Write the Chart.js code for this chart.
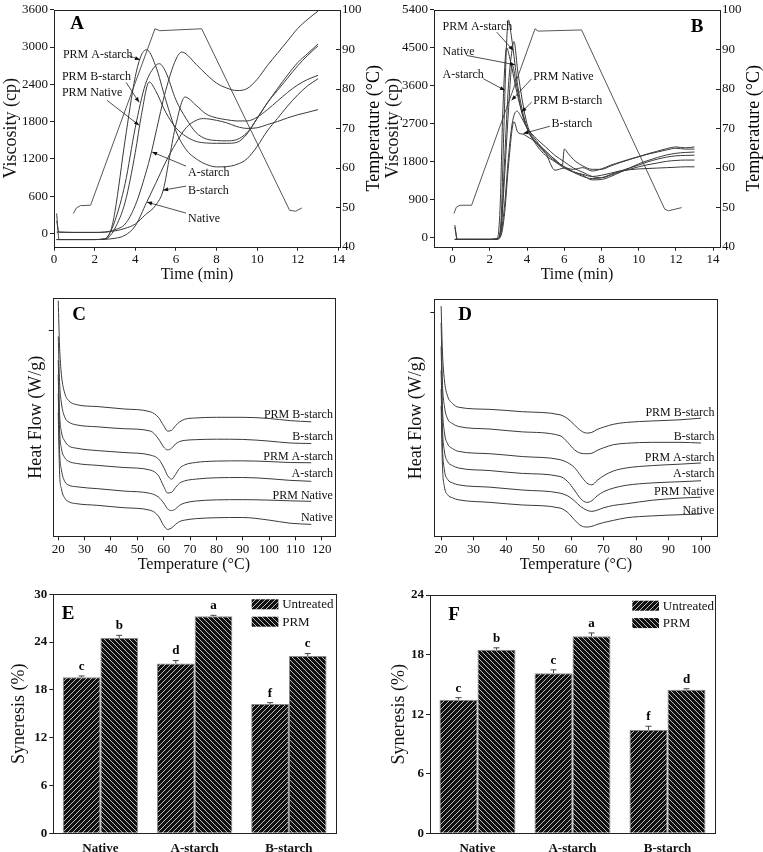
<!DOCTYPE html>
<html>
<head>
<meta charset="utf-8">
<script src="https://cdn.jsdelivr.net/npm/chart.js@4.4.0/dist/chart.umd.min.js"></script>
<style>
  body { margin: 0; background: #fff; width: 763px; height: 852px; position: relative; overflow: hidden; }
  canvas { position: absolute; }
</style>
</head>
<body>
<canvas id="chartA" width="395" height="285" style="left:0;top:0"></canvas>
<canvas id="chartB" width="381" height="285" style="left:382px;top:0"></canvas>
<canvas id="chartC" width="380" height="290" style="left:0;top:285px"></canvas>
<canvas id="chartD" width="383" height="290" style="left:380px;top:285px"></canvas>
<canvas id="chartE" width="380" height="277" style="left:0;top:575px"></canvas>
<canvas id="chartF" width="383" height="277" style="left:380px;top:575px"></canvas>
<script>
// ---------- panel A: RVA pasting curves ----------
const timeA_PRM_A = [0.13, 0.25, 1, 2, 2.5, 2.8, 3, 3.5, 4, 4.3, 4.56, 5, 5.5, 6, 6.5, 7, 7.5, 8, 8.5, 9, 9.5, 10, 10.5, 11, 11.5, 12, 12.5, 13];
const viscA_PRM_A = [320, -100, -100, -100, -90, 50, 350, 1500, 2520, 2870, 2957, 2700, 2150, 1650, 1350, 1200, 1110, 1070, 1075, 1110, 1200, 1400, 1650, 1850, 2050, 2230, 2380, 2490];
const timeA_PRM_B = [0.13, 0.25, 1, 2, 2.5, 2.7, 3, 3.5, 4, 4.5, 5, 5.19, 5.5, 6, 6.5, 7, 7.5, 8, 8.5, 9, 9.5, 10, 10.5, 11, 11.5, 12, 12.5, 13];
const viscA_PRM_B = [-100, -100, -100, -100, -90, -20, 200, 800, 1700, 2400, 2700, 2732, 2600, 2150, 1850, 1620, 1520, 1495, 1490, 1510, 1620, 1850, 2100, 2330, 2550, 2750, 2900, 3050];
const timeA_PRM_N = [0.13, 0.25, 1, 2, 2.5, 2.7, 3, 3.5, 4, 4.3, 4.69, 5, 5.5, 6, 6.5, 7, 7.5, 8, 8.5, 9, 9.5, 10, 10.5, 11, 11.5, 12, 12.5, 13];
const viscA_PRM_N = [-100, -100, -100, -100, -95, -60, 80, 500, 1300, 1900, 2437, 2300, 1950, 1700, 1560, 1480, 1455, 1450, 1450, 1465, 1600, 1850, 2100, 2300, 2500, 2700, 2870, 3020];
const timeA_A = [0.13, 0.25, 1, 2, 2.5, 3, 3.5, 4, 4.5, 4.8, 5, 5.5, 6, 6.29, 6.5, 7, 7.5, 8, 8.5, 9, 9.5, 10, 10.5, 11, 11.5, 12, 12.5, 13];
const viscA_A = [200, 20, 15, 15, 20, 60, 150, 450, 950, 1312, 1600, 2300, 2800, 2920, 2890, 2720, 2560, 2420, 2340, 2300, 2330, 2480, 2700, 2900, 3100, 3300, 3450, 3580];
const timeA_B = [0.13, 0.25, 1, 2, 2.5, 3, 3.5, 4, 4.5, 5, 5.38, 5.7, 6, 6.45, 7, 7.5, 8, 8.5, 9, 9.5, 10, 10.5, 11, 11.5, 12, 12.5, 13];
const viscA_B = [20, 20, 15, 15, 20, 40, 80, 150, 300, 450, 700, 1250, 1750, 2195, 2060, 1920, 1860, 1830, 1810, 1810, 1870, 1990, 2130, 2270, 2390, 2480, 2545];
const timeA_N = [0.13, 0.25, 1, 2, 2.5, 3, 3.5, 4, 4.56, 5, 5.5, 6, 6.5, 7, 7.35, 8, 8.5, 9, 9.5, 10, 10.5, 11, 11.5, 12, 12.5, 13];
const viscA_N = [-100, -100, -100, -100, -95, -80, -30, 120, 500, 800, 1150, 1450, 1700, 1820, 1848, 1820, 1780, 1720, 1690, 1700, 1750, 1800, 1860, 1910, 1950, 1993];
const timeTempA = [0.95, 1.1, 1.3, 1.8, 4.97, 5.2, 7.27, 11.6, 11.9, 12.2];
const tempA = [48.4, 49.8, 50.4, 50.5, 95.2, 94.7, 95.2, 49.2, 49.0, 49.8];
const xTicksAB = [0, 2, 4, 6, 8, 10, 12, 14];
const viscTicksA = [0, 600, 1200, 1800, 2400, 3000, 3600];
const tempTicks = [40, 50, 60, 70, 80, 90, 100];
const namesA = ['PRM A-starch', 'PRM B-starch', 'PRM Native', 'A-starch', 'B-starch', 'Native'];
const labelAtA = [[0.44, 2881], [0.39, 2528], [0.39, 2255], [6.6, 969], [6.6, 680], [6.6, 230]];
const arrowsA = [[3.64, 2865, 4.23, 2796], [3.55, 2431, 4.19, 2110], [2.61, 2142, 4.19, 1740], [6.5, 1082, 4.83, 1311], [6.5, 760, 5.37, 696], [6.5, 326, 4.58, 503]];

// ---------- panel B ----------
const timeB_PRM_A = [0.12, 0.25, 1, 2, 2.4, 2.6, 2.75, 2.9, 3.0, 3.15, 3.3, 3.5, 4, 4.5, 5, 5.5, 6, 6.5, 7, 7.5, 8, 8.5, 9, 9.5, 10, 10.5, 11, 11.5, 12, 12.5, 13];
const viscB_PRM_A = [300, -40, -40, -40, -30, 400, 2500, 4600, 5160, 4800, 4300, 3600, 2600, 2250, 2050, 1850, 1680, 1620, 1660, 1580, 1630, 1720, 1790, 1860, 1920, 1990, 2050, 2110, 2150, 2130, 2150];
const timeB_N = [0.12, 0.25, 1, 2, 2.4, 2.6, 2.8, 3.0, 3.15, 3.3, 3.5, 4, 4.5, 5, 5.5, 5.9, 6.0, 6.2, 6.5, 7, 7.5, 8, 8.5, 9, 9.5, 10, 10.5, 11, 11.5, 12, 12.5, 13];
const viscB_N = [250, -40, -40, -40, -35, 200, 1900, 3600, 4300, 4650, 3950, 2700, 2300, 2050, 1850, 1720, 2100, 2000, 1850, 1700, 1620, 1620, 1700, 1780, 1850, 1920, 1980, 2030, 2080, 2120, 2100, 2100];
const timeB_A = [0.12, 0.25, 1, 2, 2.4, 2.55, 2.7, 2.9, 3.1, 3.5, 4, 4.5, 5, 5.5, 6, 6.5, 7, 7.5, 8, 8.5, 9, 9.5, 10, 10.5, 11, 11.5, 12, 12.5, 13];
const viscB_A = [-40, -40, -40, -40, -20, 700, 3000, 4500, 4200, 3350, 2600, 2200, 1950, 1800, 1650, 1550, 1450, 1400, 1420, 1500, 1580, 1650, 1720, 1800, 1860, 1910, 1940, 1950, 1955];
const timeB_PRM_N = [0.12, 0.25, 1, 2, 2.4, 2.6, 2.8, 3.0, 3.2, 3.4, 3.7, 4, 4.5, 5, 5.5, 6, 6.5, 7, 7.5, 8, 8.5, 9, 9.5, 10, 10.5, 11, 11.5, 12, 12.5, 13];
const viscB_PRM_N = [-40, -40, -40, -40, -30, 200, 1500, 3000, 4100, 3700, 3000, 2600, 2250, 2000, 1820, 1680, 1560, 1480, 1370, 1380, 1450, 1550, 1650, 1750, 1830, 1900, 1960, 2000, 2020, 2030];
const timeB_PRM_B = [0.12, 0.25, 1, 2, 2.4, 2.6, 2.8, 3.0, 3.2, 3.45, 3.7, 4, 4.5, 5, 5.5, 6, 6.5, 7, 7.5, 8, 8.5, 9, 9.5, 10, 10.5, 11, 11.5, 12, 12.5, 13];
const viscB_PRM_B = [-40, -40, -40, -40, -30, 100, 800, 1900, 2700, 3000, 2850, 2600, 2350, 2150, 1950, 1800, 1650, 1550, 1450, 1420, 1480, 1560, 1620, 1680, 1730, 1770, 1810, 1830, 1840, 1840];
const timeB_B = [0.12, 0.25, 1, 2, 2.4, 2.6, 2.8, 3.0, 3.3, 3.5, 3.8, 4, 4.5, 5, 5.5, 6, 6.5, 7, 7.5, 8, 8.5, 9, 9.5, 10, 10.5, 11, 11.5, 12, 12.5, 13];
const viscB_B = [-40, -40, -40, -40, -30, 50, 600, 1700, 2750, 2500, 2450, 2400, 2250, 2000, 1600, 1650, 1560, 1500, 1450, 1480, 1530, 1580, 1610, 1630, 1640, 1650, 1660, 1670, 1680, 1680];
const timeTempB = [0.07, 0.2, 0.39, 1.02, 4.43, 4.6, 6.93, 11.4, 11.6, 12.31];
const tempB = [48.4, 50, 50.5, 50.5, 95.2, 94.6, 94.9, 49.5, 49.1, 49.9];
const viscTicksB = [0, 900, 1800, 2700, 3600, 4500, 5400];
const namesB = ['PRM A-starch', 'Native', 'A-starch', 'PRM Native', 'PRM B-starch', 'B-starch'];
const labelAtB = [[-0.54, 5005], [-0.54, 4397], [-0.54, 3870], [4.33, 3823], [4.33, 3239], [5.32, 2688]];
const arrowsB = [[2.37, 4870, 3.26, 4437], [0.75, 4319, 3.35, 4099], [1.65, 3768, 2.81, 3492], [4.25, 3768, 3.17, 3255], [4.25, 3215, 3.71, 2979], [5.23, 2641, 3.80, 2468]];

// ---------- panel C: DSC ----------
const tempGridC = [20, 20.5, 21.2, 22.5, 24, 27, 35, 45, 55, 58, 60, 61.5, 63, 64.5, 66, 68, 72, 80, 90, 100, 108, 116];
const hfC_PRM_B = [99, 80, 68, 60, 57, 55.3, 54.5, 53.5, 52.3, 50, 46.5, 44.2, 44.5, 46.5, 48, 49.2, 49.7, 50, 50, 49.5, 48.6, 48.1];
const hfC_B = [84, 65, 56, 50, 48, 46.8, 46, 45.2, 44.2, 41, 37.5, 36.3, 37, 38.8, 39.8, 40.3, 40.6, 40.8, 40.7, 40, 39.2, 39];
const hfC_PRM_A = [74, 52, 44, 40, 38, 37, 36, 35.2, 34.1, 32.5, 29, 25.5, 24, 26, 28.5, 30, 31, 31.6, 31.7, 31.4, 31, 30.9];
const hfC_A = [68, 45, 37, 33, 31.5, 30.6, 29.8, 28.9, 27.8, 25.5, 21, 18.2, 18.5, 20.5, 22.3, 23.3, 24, 24.6, 24.7, 24.2, 23.5, 23.1];
const hfC_PRM_N = [60, 36, 28, 23, 21.5, 20.8, 20, 19, 18, 16.5, 14, 11.5, 10.8, 11.5, 13, 14, 14.8, 15.3, 15.4, 15.2, 14.9, 14.7];
const hfC_N = [52, 27, 20, 16, 14.5, 13.7, 13, 12, 10.9, 8.5, 4.5, 2.9, 3.5, 5, 6.2, 6.8, 7.4, 7.8, 7.9, 6.8, 5.5, 5];
const xTicksC = [20, 30, 40, 50, 60, 70, 80, 90, 100, 110, 120];
const namesCD = ['PRM B-starch', 'B-starch', 'PRM A-starch', 'A-starch', 'PRM Native', 'Native'];
const labelYC = [50.9, 41.8, 33.4, 26.1, 17.2, 7.9];

// ---------- panel D: DSC ----------
const tempGridD = [20, 20.4, 21, 22, 23.5, 25.3, 35, 45, 56.6, 59, 61, 63, 64.8, 66.4, 68, 70, 73, 77, 85, 93.5, 100];
const hfD_PRM_B = [97, 78, 66, 59, 56, 54.4, 53.5, 52.5, 51.2, 49.5, 47, 44.5, 43.5, 43.8, 45, 46, 47.2, 48, 48.6, 49.1, 49.8];
const hfD_B = [90, 65, 55, 49.5, 47.5, 46.3, 45.2, 44, 42.4, 39.5, 36.5, 35, 34.8, 35, 36.2, 37.3, 38.6, 39.2, 39.6, 39.6, 39.3];
const hfD_PRM_A = [80, 55, 44, 39, 37, 35.8, 34.8, 33.6, 32.3, 31, 29, 25.5, 22.5, 21.7, 23.5, 25.5, 27.5, 28.8, 29.8, 30.4, 30.9];
const hfD_A = [70, 46, 36, 31.5, 29.8, 28.8, 27.7, 26.5, 25.2, 23, 19.5, 15.8, 14.3, 15, 17, 18.8, 20.3, 21.5, 22.5, 23, 23.4];
const hfD_PRM_N = [62, 38, 28, 24, 22.5, 21.7, 20.7, 19.5, 18.2, 17, 15, 12.5, 11, 10.5, 11, 12, 13, 13.7, 15.2, 16.1, 16.5];
const hfD_N = [55, 30, 21, 17.5, 16.2, 15.4, 14.3, 13.2, 11.9, 10, 7, 4.5, 3.9, 4.2, 5, 5.8, 6.7, 7.8, 8.6, 9.1, 9.4];
const xTicksD = [20, 30, 40, 50, 60, 70, 80, 90, 100];
const labelYD = [51.9, 42.1, 33, 26.4, 18.7, 10.9];

// ---------- panels E, F: syneresis ----------
const starchTypes = ['Native', 'A-starch', 'B-starch'];
const synUntreatedE = [19.58, 21.3, 16.23];
const synPRME = [24.52, 27.24, 22.26];
const errUntreatedE = [0.17, 0.38, 0.17];
const errPRME = [0.33, 0.12, 0.3];
const letUntreatedE = ['c', 'd', 'f'];
const letPRME = ['b', 'a', 'c'];
const synUntreatedF = [13.46, 16.13, 10.41];
const synPRMF = [18.48, 19.85, 14.46];
const errUntreatedF = [0.2, 0.33, 0.37];
const errPRMF = [0.2, 0.33, 0.1];
const letUntreatedF = ['c', 'c', 'f'];
const letPRMF = ['b', 'a', 'd'];

const SERIF = "'Liberation Serif', 'Times New Roman', serif";
Chart.defaults.font.family = SERIF;
Chart.defaults.font.size = 13;
Chart.defaults.color = '#111';
Chart.defaults.animation = false;
Chart.defaults.plugins.legend.display = false;
Chart.defaults.plugins.tooltip.enabled = false;

const LINE = '#3a3a3a';
const xy = (xs, ys) => xs.map((x, i) => ({ x, y: ys[i] }));
const fixW = w => s => { s.width = w; };
const fixH = h => s => { s.height = h; };
const setTicks = vals => s => { s.ticks = vals.map(v => ({ value: v })); };

// box round every plot
Chart.register({
  id: 'frame',
  afterDraw(chart) {
    const { ctx, chartArea: a } = chart;
    ctx.save();
    ctx.strokeStyle = '#222';
    ctx.lineWidth = 1;
    ctx.strokeRect(Math.round(a.left) + 0.5, Math.round(a.top) + 0.5, Math.round(a.right - a.left), Math.round(a.bottom - a.top));
    ctx.restore();
  }
});

function drawArrow(ctx, x1, y1, x2, y2) {
  ctx.beginPath();
  ctx.moveTo(x1, y1);
  ctx.lineTo(x2, y2);
  ctx.stroke();
  const ang = Math.atan2(y2 - y1, x2 - x1), L = 5, W = 2;
  ctx.beginPath();
  ctx.moveTo(x2, y2);
  ctx.lineTo(x2 - L * Math.cos(ang) + W * Math.sin(ang), y2 - L * Math.sin(ang) - W * Math.cos(ang));
  ctx.lineTo(x2 - L * Math.cos(ang) - W * Math.sin(ang), y2 - L * Math.sin(ang) + W * Math.cos(ang));
  ctx.closePath();
  ctx.fill();
}

function panelLetter(ctx, text, x, y) {
  ctx.save();
  ctx.font = 'bold 19px ' + SERIF;
  ctx.fillStyle = '#000';
  ctx.textAlign = 'center';
  ctx.textBaseline = 'middle';
  ctx.fillText(text, x, y);
  ctx.restore();
}

function rightTitle(chart, text, x) {
  const { ctx, chartArea: a } = chart;
  ctx.save();
  ctx.translate(x, (a.top + a.bottom) / 2);
  ctx.rotate(-Math.PI / 2);
  ctx.font = '18px ' + SERIF;
  ctx.fillStyle = '#000';
  ctx.textAlign = 'center';
  ctx.textBaseline = 'middle';
  ctx.fillText(text, 0, 0);
  ctx.restore();
}

function inwardTicks(chart, id) {
  const { ctx, chartArea: a } = chart;
  const s = chart.scales[id];
  ctx.save();
  ctx.strokeStyle = '#222';
  ctx.lineWidth = 1;
  s.ticks.forEach(t => {
    const y = Math.round(s.getPixelForValue(t.value)) + 0.5;
    ctx.beginPath();
    ctx.moveTo(a.right, y);
    ctx.lineTo(a.right - 4, y);
    ctx.stroke();
  });
  ctx.restore();
}

function curveLabels(chart, names, at, arrows) {
  const { ctx, scales: { x, y } } = chart;
  ctx.save();
  ctx.font = '12px ' + SERIF;
  ctx.fillStyle = '#111';
  ctx.strokeStyle = '#222';
  ctx.lineWidth = 0.8;
  ctx.textBaseline = 'middle';
  names.forEach((n, i) => {
    ctx.fillText(n, x.getPixelForValue(at[i][0]), y.getPixelForValue(at[i][1]));
    const r = arrows[i];
    drawArrow(ctx, x.getPixelForValue(r[0]), y.getPixelForValue(r[1]), x.getPixelForValue(r[2]), y.getPixelForValue(r[3]));
  });
  ctx.restore();
}

function lineSet(xs, ys, axis) {
  return {
    data: xy(xs, ys), borderColor: LINE, borderWidth: 1, pointRadius: 0,
    cubicInterpolationMode: 'monotone', yAxisID: axis || 'y'
  };
}
function tempSet(xs, ys) {
  return { data: xy(xs, ys), borderColor: '#555', borderWidth: 1, pointRadius: 0, tension: 0, yAxisID: 'y2' };
}

function rvaOptions(xMin, xMax, yMin, yMax, vTicks, leftW, rightW) {
  return {
    responsive: false,
    layout: { padding: { top: 9.3, left: 0, right: 0, bottom: 0 } },
    scales: {
      x: {
        type: 'linear', min: xMin, max: xMax,
        afterBuildTicks: setTicks(xTicksAB), afterFit: fixH(38.3),
        grid: { drawOnChartArea: false, tickLength: 4, color: '#222' }, border: { display: false },
        ticks: { padding: 1, callback: v => String(v) },
        title: { display: true, text: 'Time (min)', font: { size: 16 }, padding: { top: 0, bottom: 1 } }
      },
      y: {
        position: 'left', min: yMin, max: yMax,
        afterBuildTicks: setTicks(vTicks), afterFit: fixW(leftW),
        grid: { drawOnChartArea: false, tickLength: 4, color: '#222' }, border: { display: false },
        ticks: { padding: 2, callback: v => String(v) },
        title: { display: true, text: 'Viscosity (cp)', font: { size: 18 }, padding: { top: 0, bottom: 0 } }
      },
      y2: {
        position: 'right', min: 40, max: 100,
        afterBuildTicks: setTicks(tempTicks), afterFit: fixW(rightW),
        grid: { drawOnChartArea: false, drawTicks: false }, border: { display: false },
        ticks: { padding: 2, callback: v => String(v) }
      }
    }
  };
}

// ---------- A ----------
new Chart(document.getElementById('chartA'), {
  type: 'line',
  data: {
    datasets: [
      lineSet(timeA_PRM_A, viscA_PRM_A), lineSet(timeA_PRM_B, viscA_PRM_B), lineSet(timeA_PRM_N, viscA_PRM_N),
      lineSet(timeA_A, viscA_A), lineSet(timeA_B, viscA_B), lineSet(timeA_N, viscA_N),
      tempSet(timeTempA, tempA)
    ]
  },
  options: rvaOptions(0, 14.08, -215, 3600, viscTicksA, 54, 55),
  plugins: [{
    id: 'extrasA',
    afterDraw(chart) {
      inwardTicks(chart, 'y2');
      rightTitle(chart, 'Temperature (°C)', 374);
      curveLabels(chart, namesA, labelAtA, arrowsA);
      panelLetter(chart.ctx, 'A', 77, 24);
    }
  }]
});

// ---------- B ----------
new Chart(document.getElementById('chartB'), {
  type: 'line',
  data: {
    datasets: [
      lineSet(timeB_PRM_A, viscB_PRM_A), lineSet(timeB_N, viscB_N), lineSet(timeB_A, viscB_A),
      lineSet(timeB_PRM_N, viscB_PRM_N), lineSet(timeB_PRM_B, viscB_PRM_B), lineSet(timeB_B, viscB_B),
      tempSet(timeTempB, tempB)
    ]
  },
  options: rvaOptions(-1, 14.37, -213, 5400, viscTicksB, 52, 43),
  plugins: [{
    id: 'extrasB',
    afterDraw(chart) {
      inwardTicks(chart, 'y2');
      rightTitle(chart, 'Temperature (°C)', 372);
      curveLabels(chart, namesB, labelAtB, arrowsB);
      panelLetter(chart.ctx, 'B', 315, 27);
    }
  }]
});

// ---------- C, D ----------
function dscChart(id, grid, series, xMin, xMax, xTicks, yTick, leftW, padTop, padRight, labelX, labelY, letter, letterXY) {
  new Chart(document.getElementById(id), {
    type: 'line',
    data: { datasets: series.map(s => lineSet(grid, s)) },
    options: {
      responsive: false,
      layout: { padding: { top: padTop, right: padRight, left: 0, bottom: 0 } },
      scales: {
        x: {
          type: 'linear', min: xMin, max: xMax,
          afterBuildTicks: setTicks(xTicks), afterFit: fixH(38.7),
          grid: { drawOnChartArea: false, tickLength: 4, color: '#222' }, border: { display: false },
          ticks: { padding: 1, callback: v => String(v) },
          title: { display: true, text: 'Temperature (°C)', font: { size: 16 }, padding: { top: 0, bottom: 1 } }
        },
        y: {
          min: 0, max: 100,
          afterBuildTicks: setTicks([yTick]), afterFit: fixW(leftW),
          grid: { drawOnChartArea: false, tickLength: 4, color: '#222' }, border: { display: false },
          ticks: { display: false },
          title: { display: true, text: 'Heat Flow (W/g)', font: { size: 18 }, padding: { top: 25, bottom: 0 } }
        }
      }
    },
    plugins: [{
      id: 'extras' + id,
      afterDraw(chart) {
        const { ctx, scales: { x, y } } = chart;
        ctx.save();
        ctx.font = '12px ' + SERIF;
        ctx.fillStyle = '#111';
        ctx.textAlign = 'right';
        ctx.textBaseline = 'middle';
        namesCD.forEach((n, i) => ctx.fillText(n, x.getPixelForValue(labelX), y.getPixelForValue(labelY[i])));
        ctx.restore();
        panelLetter(ctx, letter, letterXY[0], letterXY[1]);
      }
    }]
  });
}
dscChart('chartC', tempGridC, [hfC_PRM_B, hfC_B, hfC_PRM_A, hfC_A, hfC_PRM_N, hfC_N],
  17.9, 125, xTicksC, 86.4, 52.7, 13.3, 45, 124.2, labelYC, 'C', [79, 30]);
dscChart('chartD', tempGridD, [hfD_PRM_B, hfD_B, hfD_PRM_A, hfD_A, hfD_PRM_N, hfD_N],
  17.9, 105, xTicksD, 94.4, 54.3, 14, 45.7, 104.1, labelYD, 'D', [85, 30]);

// ---------- E, F ----------
function hatch(ctx, dir) {
  const n = 5;
  const c = document.createElement('canvas');
  c.width = n; c.height = n;
  const g = c.getContext('2d');
  g.fillStyle = '#111';
  g.fillRect(0, 0, n, n);
  g.strokeStyle = '#cfcfcf';
  g.lineWidth = 0.9;
  g.beginPath();
  if (dir > 0) {
    g.moveTo(-1, n + 1); g.lineTo(n + 1, -1);
  } else {
    g.moveTo(-1, -1); g.lineTo(n + 1, n + 1);
  }
  g.stroke();
  return ctx.createPattern(c, 'repeat');
}

function barChart(id, maxY, untreated, prm, errU, errP, letU, letP, padTop, padRight, letter, letterXY, legendXY) {
  const canvas = document.getElementById(id);
  const ctx0 = canvas.getContext('2d');
  const up = hatch(ctx0, 1), down = hatch(ctx0, -1);
  new Chart(canvas, {
    type: 'bar',
    data: {
      labels: starchTypes,
      datasets: [
        { label: 'Untreated', data: untreated, backgroundColor: up, borderColor: '#8a8a8a', borderWidth: 1, categoryPercentage: 0.8, barPercentage: 1 },
        { label: 'PRM', data: prm, backgroundColor: down, borderColor: '#8a8a8a', borderWidth: 1, categoryPercentage: 0.8, barPercentage: 1 }
      ]
    },
    options: {
      responsive: false,
      layout: { padding: { top: padTop, right: padRight, left: 0, bottom: 0 } },
      scales: {
        x: {
          afterFit: fixH(18.7),
          grid: { display: false, drawTicks: false }, border: { display: false },
          ticks: { padding: 8, font: { weight: 'bold', size: 13 } }
        },
        y: {
          min: 0, max: maxY, afterFit: fixW(id === 'chartE' ? 53.3 : 50),
          grid: { drawOnChartArea: false, tickLength: 4, color: '#222' }, border: { display: false },
          ticks: { stepSize: 6, padding: 2, font: { weight: 'bold', size: 13 } },
          title: { display: true, text: 'Syneresis (%)', font: { size: 18 }, padding: { top: 8, bottom: 0 } }
        }
      }
    },
    plugins: [{
      id: 'extras' + id,
      afterDatasetsDraw(chart) {
        const { ctx, scales: { y } } = chart;
        const errs = [errU, errP], lets = [letU, letP], vals = [untreated, prm];
        ctx.save();
        ctx.strokeStyle = '#444';
        ctx.lineWidth = 1;
        ctx.fillStyle = '#000';
        ctx.font = 'bold 13px ' + SERIF;
        ctx.textAlign = 'center';
        ctx.textBaseline = 'bottom';
        [0, 1].forEach(d => {
          chart.getDatasetMeta(d).data.forEach((bar, i) => {
            const yTop = y.getPixelForValue(vals[d][i] + errs[d][i]);
            ctx.beginPath();
            ctx.moveTo(bar.x, bar.y);
            ctx.lineTo(bar.x, yTop);
            ctx.moveTo(bar.x - 3, yTop);
            ctx.lineTo(bar.x + 3, yTop);
            ctx.stroke();
            ctx.fillText(lets[d][i], bar.x, yTop - 3);
          });
        });
        // legend
        const [lx, ly] = legendXY;
        [[up, 'Untreated'], [down, 'PRM']].forEach(([pat, txt], k) => {
          const top = ly + k * 17.4;
          ctx.fillStyle = pat;
          ctx.fillRect(lx, top, 26.7, 10);
          ctx.fillStyle = '#111';
          ctx.font = '13px ' + SERIF;
          ctx.textAlign = 'left';
          ctx.textBaseline = 'middle';
          ctx.fillText(txt, lx + 30.5, top + 5.5);
        });
        ctx.restore();
        panelLetter(ctx, letter, letterXY[0], letterXY[1]);
      }
    }]
  });
}
barChart('chartE', 30, synUntreatedE, synPRME, errUntreatedE, errPRME, letUntreatedE, letPRME,
  19.3, 44, 'E', [68, 39], [251.7, 24.3]);
barChart('chartF', 24, synUntreatedF, synPRMF, errUntreatedF, errPRMF, letUntreatedF, letPRMF,
  20, 48, 'F', [74, 40], [252.3, 25.7]);
</script>
</body>
</html>
